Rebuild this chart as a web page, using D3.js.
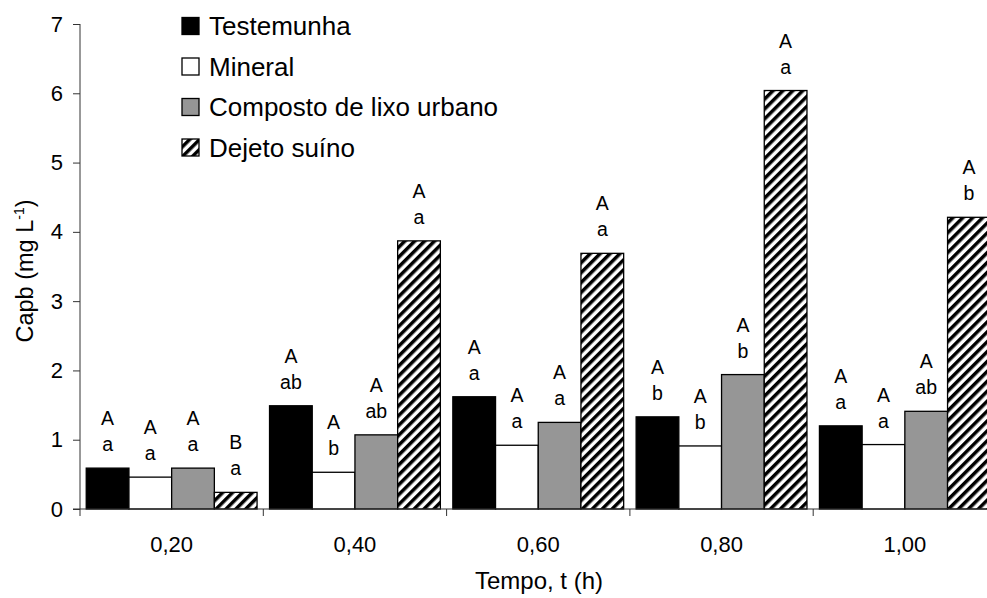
<!DOCTYPE html>
<html>
<head>
<meta charset="utf-8">
<script src="https://cdn.jsdelivr.net/npm/d3@7"></script>
<style>
  body { margin: 0; background: #fff; }
  svg { display: block; font-family: "Liberation Sans", Arial, sans-serif; }
</style>
</head>
<body>
<div id="chart"></div>
<script>
// Chart data
const tempos = ["0,20", "0,40", "0,60", "0,80", "1,00"];
const seriesNames = ["Testemunha", "Mineral", "Composto de lixo urbano", "Dejeto suíno"];
const testemunha = [0.59, 1.49, 1.62, 1.33, 1.20];
const mineral = [0.46, 0.53, 0.92, 0.91, 0.93];
const composto = [0.59, 1.07, 1.25, 1.94, 1.41];
const dejeto = [0.24, 3.87, 3.69, 6.04, 4.21];
// significance letters, per series then per time
const upperLetters = [
  ["A", "A", "A", "A", "A"],
  ["A", "A", "A", "A", "A"],
  ["A", "A", "A", "A", "A"],
  ["B", "A", "A", "A", "A"]
];
const lowerLetters = [
  ["a", "ab", "a", "b", "a"],
  ["a", "b", "a", "b", "a"],
  ["a", "ab", "a", "b", "ab"],
  ["a", "a", "a", "a", "b"]
];
const yTicks = [0, 1, 2, 3, 4, 5, 6, 7];

const width = 987, height = 598;
const values = [testemunha, mineral, composto, dejeto];
const fills = ["#000", "#fff", "#969696", "url(#hatch)"];

const svg = d3.select("#chart").append("svg")
    .attr("width", width)
    .attr("height", height);

// diagonal hatch for "Dejeto suíno"
const pat = svg.append("defs").append("pattern")
    .attr("id", "hatch")
    .attr("patternUnits", "userSpaceOnUse")
    .attr("width", 7).attr("height", 7)
    .attr("patternTransform", "rotate(45)");
pat.append("rect").attr("width", 7).attr("height", 7).attr("fill", "#fff");
pat.append("rect").attr("width", 3.5).attr("height", 7).attr("fill", "#000");

const x = d3.scaleBand().domain(tempos).range([80, 80 + 5 * 183.3]).paddingInner(0).paddingOuter(0);
const xs = d3.scaleBand().domain(d3.range(4)).range([0, x.bandwidth()]).paddingInner(0).paddingOuter(0.146);
const y = d3.scaleLinear().domain([0, 7]).range([509, 24]);

// bars
const rows = [];
values.forEach((vals, s) => vals.forEach((v, i) => rows.push({s, i, v})));

svg.append("g").selectAll("rect")
  .data(rows)
  .join("rect")
    .attr("x", d => x(tempos[d.i]) + xs(d.s))
    .attr("y", d => y(d.v))
    .attr("width", xs.bandwidth())
    .attr("height", d => y(0) - y(d.v))
    .attr("fill", d => fills[d.s])
    .attr("stroke", "#000")
    .attr("stroke-width", 1.3);

// letters above bars
const lab = svg.append("g").attr("font-size", 19.5).attr("text-anchor", "middle").attr("fill", "#000");
rows.forEach(d => {
  const cx = x(tempos[d.i]) + xs(d.s) + xs.bandwidth() / 2;
  lab.append("text").attr("x", cx).attr("y", y(d.v) - 43).text(upperLetters[d.s][d.i]);
  lab.append("text").attr("x", cx).attr("y", y(d.v) - 17).text(lowerLetters[d.s][d.i]);
});

// y axis
const yAxis = svg.append("g").attr("transform", "translate(80,0)")
    .call(d3.axisLeft(y).tickValues(yTicks).tickSize(7).tickPadding(10).tickFormat(d3.format("d")));
yAxis.select(".domain").attr("d", "M0," + y(7) + "V" + y(0)).attr("stroke", "#333");
yAxis.selectAll(".tick line").attr("stroke", "#333");
yAxis.selectAll("text").attr("font-size", 22).attr("fill", "#000")
    .attr("font-family", "Liberation Sans, Arial, sans-serif");

// x axis
const xAxis = svg.append("g").attr("transform", "translate(0," + y(0) + ")");
xAxis.append("line").attr("x1", 73).attr("x2", width).attr("stroke", "#333");
xAxis.selectAll(".tk")
  .data(d3.range(6))
  .join("line")
    .attr("x1", i => 80 + i * x.step()).attr("x2", i => 80 + i * x.step())
    .attr("y1", 0).attr("y2", 7)
    .attr("stroke", "#333");
xAxis.selectAll("text")
  .data(tempos)
  .join("text")
    .attr("x", d => x(d) + x.bandwidth() / 2)
    .attr("y", 43)
    .attr("text-anchor", "middle")
    .attr("font-size", 22)
    .text(d => d);

// axis titles
svg.append("text")
    .attr("x", 539).attr("y", 589)
    .attr("text-anchor", "middle")
    .attr("font-size", 24)
    .text("Tempo, t (h)");

const yt = svg.append("text")
    .attr("transform", "translate(33,271) rotate(-90)")
    .attr("text-anchor", "middle")
    .attr("font-size", 23.5);
yt.append("tspan").text("Capb (mg L");
yt.append("tspan").attr("font-size", 14).attr("dy", -9).text("-1");
yt.append("tspan").attr("dy", 9).text(")");

// legend
const leg = svg.append("g");
seriesNames.forEach((name, s) => {
  const cy = 26 + s * 40.5;
  leg.append("rect")
      .attr("x", 182).attr("y", cy - 8.5)
      .attr("width", 17).attr("height", 17)
      .attr("fill", fills[s])
      .attr("stroke", "#000").attr("stroke-width", 1.3);
  leg.append("text")
      .attr("x", 209).attr("y", cy + 9)
      .attr("font-size", 26)
      .text(name);
});
</script>
</body>
</html>
